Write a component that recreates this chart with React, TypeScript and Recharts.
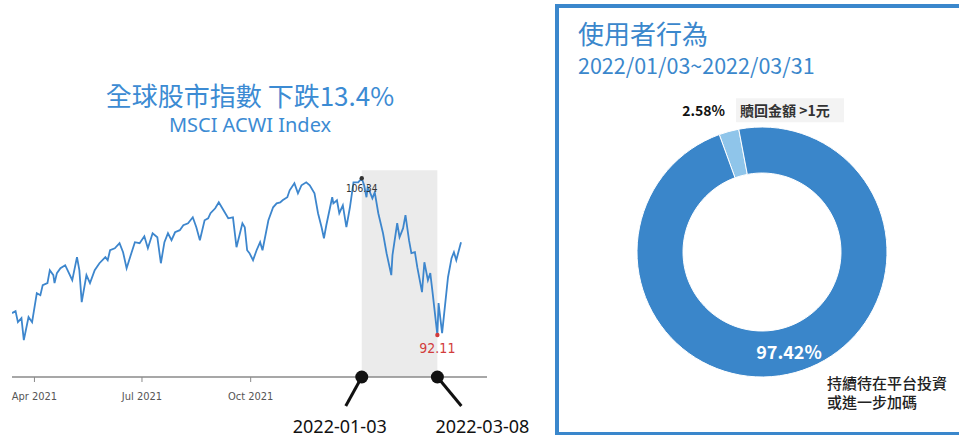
import React from 'react';
import { LineChart, Line, XAxis, YAxis, ReferenceArea, ReferenceDot, PieChart, Pie, Cell } from 'recharts';

// MSCI ACWI index
const dates = [
  '2021-03-13', '2021-03-16', '2021-03-18', '2021-03-21', '2021-03-23', '2021-03-27', '2021-03-30',
  '2021-04-03', '2021-04-06', '2021-04-08', '2021-04-12', '2021-04-14', '2021-04-17', '2021-04-18',
  '2021-04-20', '2021-04-23', '2021-04-27', '2021-04-29', '2021-05-03', '2021-05-07', '2021-05-09',
  '2021-05-11', '2021-05-15', '2021-05-18', '2021-05-22', '2021-05-26', '2021-05-31', '2021-06-02',
  '2021-06-04', '2021-06-08', '2021-06-12', '2021-06-15', '2021-06-18', '2021-06-22', '2021-06-25',
  '2021-06-29', '2021-07-03', '2021-07-06', '2021-07-10', '2021-07-14', '2021-07-17', '2021-07-20',
  '2021-07-23', '2021-07-26', '2021-07-29', '2021-08-02', '2021-08-05', '2021-08-09', '2021-08-13',
  '2021-08-16', '2021-08-19', '2021-08-23', '2021-08-26', '2021-08-28', '2021-09-01', '2021-09-04',
  '2021-09-07', '2021-09-12', '2021-09-16', '2021-09-19', '2021-09-24', '2021-09-26', '2021-09-28',
  '2021-09-30', '2021-10-03', '2021-10-06', '2021-10-09', '2021-10-11', '2021-10-16', '2021-10-20',
  '2021-10-23', '2021-10-26', '2021-10-28', '2021-11-01', '2021-11-03', '2021-11-07', '2021-11-10',
  '2021-11-13', '2021-11-17', '2021-11-20', '2021-11-24', '2021-11-27', '2021-11-30', '2021-12-02',
  '2021-12-04', '2021-12-09', '2021-12-10', '2021-12-13', '2021-12-15', '2021-12-18', '2021-12-21',
  '2021-12-24', '2021-12-27', '2021-12-31', '2022-01-03', '2022-01-05', '2022-01-07', '2022-01-08',
  '2022-01-10', '2022-01-12', '2022-01-14', '2022-01-17', '2022-01-21', '2022-01-24', '2022-01-28',
  '2022-01-29', '2022-02-02', '2022-02-04', '2022-02-07', '2022-02-09', '2022-02-12', '2022-02-14',
  '2022-02-17', '2022-02-19', '2022-02-23', '2022-02-25', '2022-02-28', '2022-03-02', '2022-03-04',
  '2022-03-08', '2022-03-09', '2022-03-12', '2022-03-17', '2022-03-20', '2022-03-22', '2022-03-24',
  '2022-03-28',
];

const values = [
  94.1, 94.28, 93.28, 93.65, 91.65, 93.74, 93.28,
  95.91, 95.73, 96.64, 96.82, 98.0, 97.55, 96.82,
  97.73, 98.18, 98.45, 98.0, 97.09, 99.18, 98.0,
  95.1, 97.55, 96.82, 98.0, 98.63, 99.18, 98.91,
  99.81, 99.99, 100.45, 99.63, 98.18, 99.54, 100.54,
  100.45, 101.08, 99.99, 101.35, 100.99, 98.63, 100.54,
  101.35, 100.72, 101.44, 101.63, 102.08, 102.26, 102.8,
  101.9, 100.72, 102.53, 102.71, 103.17, 103.62, 104.16,
  103.62, 102.71, 102.8, 100.08, 102.26, 101.9, 99.81,
  99.54, 98.91, 99.81, 100.54, 99.81, 102.53, 103.71,
  104.07, 104.16, 104.35, 104.62, 105.25, 105.89, 104.98,
  105.71, 105.98, 105.71, 104.98, 103.17, 101.9, 100.9,
  102.08, 104.62, 104.07, 104.35, 103.17, 103.89, 101.9,
  103.71, 105.98, 105.98, 106.34, 105.71, 104.62, 105.52,
  105.07, 104.53, 105.07, 103.17, 101.35, 99.54, 97.55,
  99.36, 102.26, 100.99, 101.81, 102.99, 100.72, 99.54,
  99.63, 98.27, 96.0, 98.72, 97.09, 97.73, 95.91,
  92.11, 95.01, 92.29, 97.36, 99.09, 99.63, 98.91,
  100.54,
];

const tickDates = ['2021-04-01', '2021-07-01', '2021-10-01'];
const tickLabels = ['Apr 2021', 'Jul 2021', 'Oct 2021'];
const xRange = ['2021-03-13', '2022-04-19'];
const yRange = [88.3, 110];
const shadeTop = 107.07;
const peakDate = '2022-01-03';
const peakValue = 106.34;
const lowDate = '2022-03-08';
const lowValue = 92.11;

// user behaviour donut
const sliceNames = ['贖回金額 >1元', '持續待在平台投資或進一步加碼'];
const sliceValues = [2.58, 97.42];
const sliceColors = ['#8fc5ea', '#3a86ca'];

const toTime = (s: string) => Date.parse(s);
const lineData = dates.map((d, i) => ({ t: toTime(d), v: values[i] }));
const tickTimes = tickDates.map(toTime);
const pieData = sliceNames.map((n, i) => ({ name: n, value: sliceValues[i] }));

const BLUE = '#3a87cc';
const CJK = "'Noto Sans CJK TC', 'Noto Sans', sans-serif";
const NARROW = "'Liberation Sans Narrow', 'DejaVu Sans Condensed', 'Roboto', sans-serif";
const RAD = Math.PI / 180;

const smallDot = (color: string, label: string, gap: number, size: number) => (p: any) => (
  <g>
    <circle cx={p.cx} cy={p.cy} r={2.2} fill={color} />
    <text x={p.cx} y={p.cy + gap} textAnchor="middle" dominantBaseline="central"
      fontFamily={NARROW} fontSize={size} fill={color}>{label}</text>
  </g>
);

const callout = (label: string, lineDx: number, textDx: number) => (p: any) => (
  <g>
    <line x1={p.cx} y1={p.cy} x2={p.cx + lineDx} y2={p.cy + 29} stroke="#111" strokeWidth={3} />
    <circle cx={p.cx} cy={p.cy} r={6.5} fill="#111" />
    <text x={p.cx + textDx} y={p.cy + 49} textAnchor="middle" dominantBaseline="central"
      fontFamily="'Noto Sans', sans-serif" fontSize={18} fill="#111">{label}</text>
  </g>
);

const renderPieLabel = (p: any) => {
  const { cx, cy, midAngle, innerRadius, outerRadius, index, value } = p;
  if (index === 0) {
    const r = outerRadius + 22;
    const x = cx + r * Math.cos(-midAngle * RAD);
    const y = cy + r * Math.sin(-midAngle * RAD);
    return (
      <g>
        <text x={x + 2} y={y} textAnchor="end" dominantBaseline="central" fontFamily={CJK}
          fontWeight={700} fontSize={14} fill="#111">{value.toFixed(2)}%</text>
        <rect x={x + 13} y={y - 12} width={108} height={24} fill="#f3f3f3" />
        <text x={x + 17} y={y} dominantBaseline="central" fontFamily={CJK}
          fontWeight={700} fontSize={14} fill="#333">{sliceNames[0]}</text>
      </g>
    );
  }
  const r = (innerRadius + outerRadius) / 2;
  const x = cx + r * Math.cos(-midAngle * RAD);
  const y = cy + r * Math.sin(-midAngle * RAD);
  return (
    <g>
      <text x={x} y={y + 1} textAnchor="middle" dominantBaseline="central" fontFamily={CJK}
        fontWeight={700} fontSize={18} fill="#fff">{value.toFixed(2)}%</text>
      <text x={cx + 65} y={cy + 130} dominantBaseline="central" fontFamily={CJK}
        fontWeight={500} fontSize={15} fill="#222">{sliceNames[1].slice(0, 8)}</text>
      <text x={cx + 65} y={cy + 149} dominantBaseline="central" fontFamily={CJK}
        fontWeight={500} fontSize={15} fill="#222">{sliceNames[1].slice(8)}</text>
    </g>
  );
};

export default function App() {
  return (
    <div style={{ position: 'fixed', left: 0, top: 0, width: 959, height: 437, background: '#fff', overflow: 'hidden', fontFamily: CJK }}>
      <div style={{ position: 'absolute', left: 0, top: 82, width: 500, textAlign: 'center', fontSize: 26, lineHeight: '26px', color: '#3c8bd3' }}>
        全球股市指數 下跌13.4%
      </div>
      <div style={{ position: 'absolute', left: 0, top: 115, width: 500, textAlign: 'center', fontSize: 20, lineHeight: '20px', color: '#3c8bd3', fontFamily: "'Noto Sans', sans-serif" }}>
        MSCI ACWI Index
      </div>

      <div style={{ position: 'absolute', left: 0, top: 0 }}>
        <LineChart width={545} height={437} data={lineData} margin={{ top: 138, right: 58, bottom: 30, left: 12 }}>
          <XAxis dataKey="t" type="number" domain={[toTime(xRange[0]), toTime(xRange[1])]} allowDataOverflow
            ticks={tickTimes} interval={0} tickFormatter={(t: number) => tickLabels[tickTimes.indexOf(t)]}
            axisLine={{ stroke: '#8a8a8a', strokeWidth: 1.5 }} tickLine={{ stroke: '#8a8a8a' }}
            tickSize={5} tickMargin={10} height={30}
            tick={{ fill: '#555', fontSize: 11, fontFamily: NARROW }} />
          <YAxis hide width={0} type="number" domain={yRange} allowDataOverflow />
          <ReferenceArea x1={toTime(peakDate)} x2={toTime(lowDate)} y1={yRange[0]} y2={shadeTop}
            fill="#ebebeb" fillOpacity={1} stroke="none" ifOverflow="visible" />
          <Line type="linear" dataKey="v" stroke="#3d86cd" strokeWidth={1.8} dot={false} isAnimationActive={false} />
          <ReferenceDot x={toTime(peakDate)} y={peakValue} r={2} ifOverflow="visible"
            shape={smallDot('#333', peakValue.toFixed(2), 10, 10)} />
          <ReferenceDot x={toTime(lowDate)} y={lowValue} r={2} ifOverflow="visible"
            shape={smallDot('#d23c3c', lowValue.toFixed(2), 13, 14)} />
          <ReferenceDot x={toTime(peakDate)} y={yRange[0]} r={6.5} ifOverflow="visible"
            shape={callout(peakDate, -16, -22)} />
          <ReferenceDot x={toTime(lowDate)} y={yRange[0]} r={6.5} ifOverflow="visible"
            shape={callout(lowDate, 24, 45)} />
        </LineChart>
      </div>

      <div style={{ position: 'absolute', left: 555, top: 4, width: 420, height: 431, boxSizing: 'border-box', border: `4px solid ${BLUE}`, borderBottomWidth: 3 }} />
      <div style={{ position: 'absolute', left: 578, top: 20, fontSize: 26, lineHeight: '26px', color: BLUE }}>使用者行為</div>
      <div style={{ position: 'absolute', left: 578, top: 54, fontSize: 21.5, lineHeight: '22px', color: BLUE }}>2022/01/03~2022/03/31</div>

      <div style={{ position: 'absolute', left: 555, top: 0 }}>
        <PieChart width={404} height={437} margin={{ top: 0, right: 0, bottom: 0, left: 0 }}>
          <Pie data={pieData} dataKey="value" cx={207} cy={252} innerRadius={79} outerRadius={125}
            startAngle={110} endAngle={-250} stroke="#fff" strokeWidth={1}
            label={renderPieLabel} labelLine={false} isAnimationActive={false}>
            {pieData.map((d, i) => <Cell key={d.name} fill={sliceColors[i]} />)}
          </Pie>
        </PieChart>
      </div>
    </div>
  );
}
